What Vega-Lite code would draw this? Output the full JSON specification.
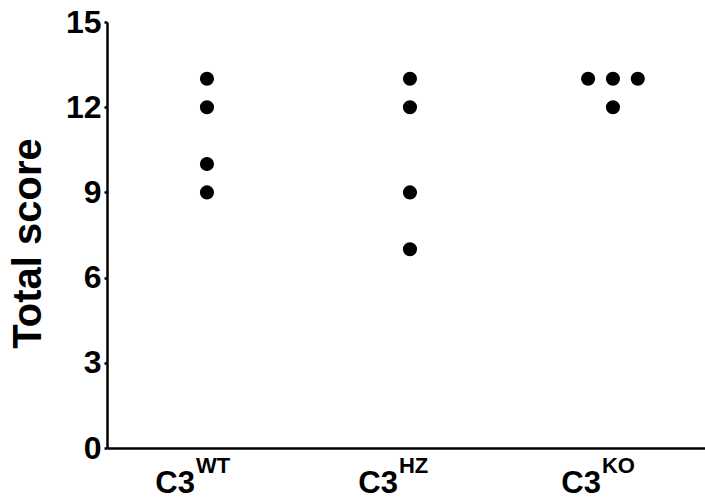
{
  "$schema": "https://vega.github.io/schema/vega-lite/v6.json",
  "width": 598,
  "height": 426,
  "autosize": {"type": "none"},
  "padding": {"left": 107, "top": 22, "right": 0, "bottom": 54},
  "background": "white",
  "config": {
    "view": {"stroke": null},
    "font": "Liberation Sans"
  },
  "datasets": {
    "points": [
      {"group": "WT", "col": "mid", "score": 13},
      {"group": "WT", "col": "mid", "score": 12},
      {"group": "WT", "col": "mid", "score": 10},
      {"group": "WT", "col": "mid", "score": 9},
      {"group": "HZ", "col": "mid", "score": 13},
      {"group": "HZ", "col": "mid", "score": 12},
      {"group": "HZ", "col": "mid", "score": 9},
      {"group": "HZ", "col": "mid", "score": 7},
      {"group": "KO", "col": "left", "score": 13},
      {"group": "KO", "col": "mid", "score": 13},
      {"group": "KO", "col": "right", "score": 13},
      {"group": "KO", "col": "mid", "score": 12}
    ],
    "labels": [
      {"group": "WT", "main": "C3", "sup": "WT"},
      {"group": "HZ", "main": "C3", "sup": "HZ"},
      {"group": "KO", "main": "C3", "sup": "KO"}
    ]
  },
  "encoding": {
    "x": {
      "field": "group",
      "type": "nominal",
      "sort": ["WT", "HZ", "KO"],
      "scale": {"domain": ["WT", "HZ", "KO"], "paddingInner": 0.6453, "paddingOuter": 0.2956, "align": 0.533},
      "axis": {
        "title": null,
        "labels": false,
        "ticks": false,
        "domainWidth": 2.5,
        "domainColor": "black",
        "grid": false
      }
    }
  },
  "layer": [
    {
      "data": {"name": "points"},
      "mark": {"type": "point", "filled": true, "shape": "circle", "size": 200, "color": "black", "opacity": 1},
      "encoding": {
        "xOffset": {
          "field": "col",
          "type": "nominal",
          "scale": {"domain": ["left", "mid", "right"], "paddingInner": 0, "paddingOuter": 0.45}
        },
        "y": {
          "field": "score",
          "type": "quantitative",
          "scale": {"domain": [0, 15], "nice": false, "zero": true},
          "axis": {
            "title": "Total score",
            "titleFont": "Liberation Sans",
            "titleFontSize": 40,
            "titleFontWeight": "bold",
            "titleColor": "black",
            "titlePadding": 17,
            "titleY": 221,
            "values": [0, 3, 6, 9, 12, 15],
            "labelFont": "Liberation Sans",
            "labelFontSize": 32,
            "labelFontWeight": "bold",
            "labelColor": "black",
            "labelPadding": 3,
            "tickSize": 3,
            "tickWidth": 2.5,
            "tickColor": "black",
            "domainWidth": 2.5,
            "domainColor": "black",
            "grid": false
          }
        }
      }
    },
    {
      "data": {"name": "labels"},
      "mark": {"type": "text", "align": "right", "baseline": "alphabetic", "font": "Liberation Sans", "fontWeight": "bold", "fontSize": 31, "dx": -12, "dy": 45, "color": "black"},
      "encoding": {
        "y": {"datum": 0},
        "text": {"field": "main"}
      }
    },
    {
      "data": {"name": "labels"},
      "mark": {"type": "text", "align": "left", "baseline": "alphabetic", "font": "Liberation Sans", "fontWeight": "bold", "fontSize": 22, "dx": -11, "dy": 25, "color": "black"},
      "encoding": {
        "y": {"datum": 0},
        "text": {"field": "sup"}
      }
    }
  ]
}
